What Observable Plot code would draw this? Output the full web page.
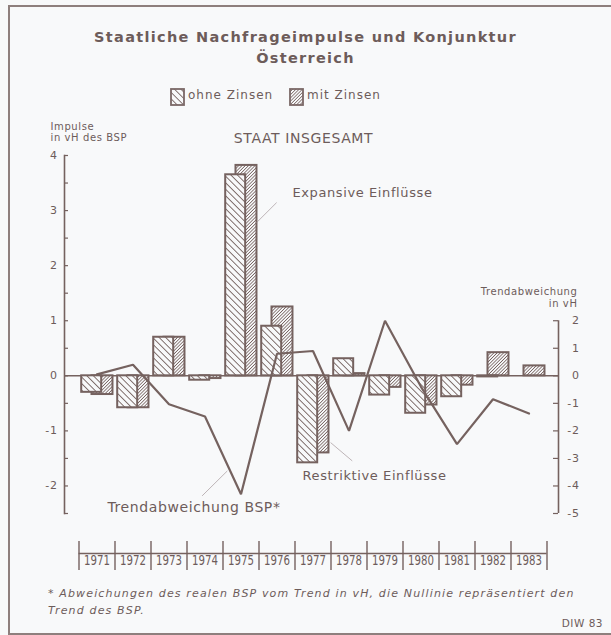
<!DOCTYPE html>
<html>
<head>
<meta charset="utf-8">
<script src="https://cdn.jsdelivr.net/npm/d3@7"></script>
<script src="https://cdn.jsdelivr.net/npm/@observablehq/plot@0.6"></script>
<style>
  html, body { margin: 0; padding: 0; }
  body { width: 611px; height: 635px; background: #f8f9fa; position: relative; overflow: hidden;
         font-family: "DejaVu Sans", sans-serif; color: #6d5c5a; }
  .abs { position: absolute; }
  #frameBox { left: 8px; top: 5px; width: 640px; height: 626px; border-left: 2px solid #8e7f7d;
              border-top: 2px solid #8e7f7d; border-bottom: 2px solid #8e7f7d; }
  #title { top: 27px; left: 0; width: 611px; text-align: center; font-weight: bold; font-size: 14.5px;
           letter-spacing: 1.3px; line-height: 21px; }
  .legtext { font-size: 12px; letter-spacing: 1px; top: 88px; }
  #chart { top: 110px; left: 0; }
  #chart svg text { letter-spacing: 0.6px; }
  #note { top: 585px; left: 48px; font-style: italic; font-size: 11px; letter-spacing: 1.15px; line-height: 17px; white-space: nowrap; }
  #diw { top: 617px; right: 8px; font-size: 10.5px; letter-spacing: 0.5px; }
</style>
</head>
<body>
<div id="frameBox" class="abs"></div>
<div id="title" class="abs">Staatliche Nachfrageimpulse und Konjunktur<br>Österreich</div>
<svg class="abs" style="left:170px;top:88px" width="15" height="18">
  <defs>
    <pattern id="lOhne" patternUnits="userSpaceOnUse" width="4.6" height="4.6" patternTransform="rotate(-45)">
      <rect width="4.6" height="4.6" fill="#f8f9fa"/><line x1="2.3" y1="0" x2="2.3" y2="4.6" stroke="#7a6866" stroke-width="0.9"/>
    </pattern>
    <pattern id="lMit" patternUnits="userSpaceOnUse" width="2.3" height="2.3" patternTransform="rotate(45)">
      <rect width="2.3" height="2.3" fill="#f8f9fa"/><line x1="1.15" y1="0" x2="1.15" y2="2.3" stroke="#7a6866" stroke-width="0.8"/>
    </pattern>
  </defs>
  <rect x="1" y="1" width="13" height="16" fill="url(#lOhne)" stroke="#7a6866" stroke-width="1.8"/>
</svg>
<div class="abs legtext" style="left:188px">ohne Zinsen</div>
<svg class="abs" style="left:289px;top:88px" width="15" height="18">
  <rect x="1" y="1" width="13" height="16" fill="url(#lMit)" stroke="#7a6866" stroke-width="1.8"/>
</svg>
<div class="abs legtext" style="left:307px">mit Zinsen</div>
<div id="chart" class="abs"></div>
<div id="note" class="abs">* Abweichungen des realen BSP vom Trend in vH, die Nullinie repräsentiert den<br>Trend des BSP.</div>
<div id="diw" class="abs">DIW 83</div>
<script>
// ---- data ----
const years = [1971, 1972, 1973, 1974, 1975, 1976, 1977, 1978, 1979, 1980, 1981, 1982, 1983];
const ohneZinsen = [-0.30, -0.58, 0.70, -0.08, 3.65, 0.90, -1.58, 0.31, -0.35, -0.68, -0.38, -0.02, 0];
const mitZinsen  = [-0.34, -0.58, 0.70, -0.05, 3.82, 1.25, -1.40, 0.04, -0.21, -0.53, -0.17, 0.42, 0.18];
const trendBSP   = [0.05, 0.40, -1.03, -1.48, -4.30, 0.80, 0.90, -2.00, 2.00, -0.40, -2.48, -0.85, -1.37];
const leftTicks  = [-2.5, -2, -1.5, -1, -0.5, 0, 0.5, 1, 1.5, 2, 2.5, 3, 3.5, 4];
const leftLabels = [-2, -1, 0, 1, 2, 3, 4];
const rightTicks = [2, 1, 0, -1, -2, -3, -4, -5];
const yearBounds = [1970.5, 1971.5, 1972.5, 1973.5, 1974.5, 1975.5, 1976.5, 1977.5, 1978.5, 1979.5, 1980.5, 1981.5, 1982.5, 1983.5];
const annLabels = [
  {text: "Expansive Einflüsse", year: 1976.43, v: 3.33, size: 13},
  {text: "Restriktive Einflüsse", year: 1976.71, v: -1.82, size: 13},
  {text: "Trendabweichung BSP*", year: 1971.29, v: -2.40, size: 14}
];
const leaders = [
  {x1: 1975.99, y1: 3.145, x2: 1975.43, y2: 2.78},
  {x1: 1977.49, y1: -1.213, x2: 1978.09, y2: -1.545},
  {x1: 1973.92, y1: -2.18, x2: 1974.62, y2: -1.727}
];

const rows = years.map((year, i) => ({year, ohne: ohneZinsen[i], mit: mitZinsen[i], trend: trendBSP[i]}));
const ink = "#75625f";
const txt = "#6d5c5a";
const bg = "#f8f9fa";

const plot = Plot.plot({
  width: 611,
  height: 475,
  marginTop: 45,
  marginBottom: 72,
  marginLeft: 64,
  marginRight: 53,
  style: {background: "transparent", fontFamily: "DejaVu Sans, sans-serif", color: txt, overflow: "visible"},
  x: {domain: [1970.5, 1983.5], range: [78.5, 546.5], axis: null},
  y: {domain: [-2.5, 4], axis: null},
  marks: [
    // left axis line and ticks
    Plot.frame({anchor: "left", stroke: ink, strokeWidth: 1.6}),
    Plot.ruleY(leftTicks, {y: d => d, stroke: ink, strokeWidth: 1.2, insetRight: 490}),
    Plot.text(leftLabels, {y: d => d, text: d => String(d), frameAnchor: "left", textAnchor: "end", dx: -7, fontSize: 11, fill: txt}),
    // right axis (trend, scale factor 2)
    Plot.ruleX([yearBounds[yearBounds.length - 1]], {y1: () => rightTicks[rightTicks.length - 1] / 2, y2: () => rightTicks[0] / 2, dx: 11.5, stroke: ink, strokeWidth: 1.6}),
    Plot.ruleY(rightTicks, {y: d => d / 2, stroke: ink, strokeWidth: 1.2, insetLeft: 489}),
    Plot.text(rightTicks, {y: d => d / 2, text: d => String(d), frameAnchor: "right", textAnchor: "end", dx: 21, fontSize: 11, fill: txt}),
    // zero line
    Plot.ruleY([0], {stroke: ink, strokeWidth: 1.6}),
    // bars
    Plot.rect(rows, {x1: d => d.year - 0.139, x2: d => d.year + 0.444, y1: () => 0, y2: "mit", fill: "url(#pMit)", stroke: ink, strokeWidth: 2}),
    Plot.rect(rows.filter(d => d.ohne !== 0), {x1: d => d.year - 0.425, x2: d => d.year + 0.13, y1: () => 0, y2: "ohne", fill: "url(#pOhne)", stroke: ink, strokeWidth: 2}),
    // trend line
    Plot.line(rows, {x: "year", y: d => d.trend / 2, stroke: ink, strokeWidth: 2.2, strokeLinejoin: "miter"}),
    // annotations
    Plot.link(leaders, {x1: "x1", y1: "y1", x2: "x2", y2: "y2", stroke: "#a3979a", strokeWidth: 0.7}),
    Plot.text(annLabels, {x: "year", y: "v", text: "text", textAnchor: "start", fontSize: d => d.size, fill: txt}),
    // panel titles
    Plot.text(["STAAT INSGESAMT"], {frameAnchor: "top", dx: -8, dy: -22, fontSize: 14, fill: txt}),
    Plot.text(["Impulse\nin vH des BSP"], {frameAnchor: "top-left", textAnchor: "start", lineAnchor: "top", dx: -14, dy: -34, fontSize: 10, lineHeight: 1.15, fill: txt}),
    Plot.text(["Trendabweichung\nin vH"], {frameAnchor: "top-right", textAnchor: "end", lineAnchor: "top", dx: 19, dy: 131, fontSize: 10, lineHeight: 1.2, fill: txt}),
    // year axis band
    Plot.ruleY([-2.5], {x1: () => yearBounds[0], x2: () => yearBounds[yearBounds.length - 1], dy: 40, stroke: ink, strokeWidth: 1.6}),
    Plot.ruleX(yearBounds, {x: d => d, insetTop: 386, insetBottom: -57, stroke: ink, strokeWidth: 1.4}),
    Plot.text(years, {x: d => d, text: d => String(d), frameAnchor: "bottom", dy: 51, fontSize: 14, fill: txt})
  ]
});

d3.select(plot).insert("defs", ":first-child").html(`
  <pattern id="pOhne" patternUnits="userSpaceOnUse" width="4.6" height="4.6" patternTransform="rotate(-45)">
    <rect width="4.6" height="4.6" fill="${bg}"/><line x1="2.3" y1="0" x2="2.3" y2="4.6" stroke="${ink}" stroke-width="0.9"/>
  </pattern>
  <pattern id="pMit" patternUnits="userSpaceOnUse" width="2.3" height="2.3" patternTransform="rotate(45)">
    <rect width="2.3" height="2.3" fill="${bg}"/><line x1="1.15" y1="0" x2="1.15" y2="2.3" stroke="${ink}" stroke-width="0.8"/>
  </pattern>`);

// condensed look for the year labels
d3.select(plot).selectAll("text")
  .filter(function() { return /^19\d\d$/.test(this.textContent); })
  .attr("textLength", 26).attr("lengthAdjust", "spacingAndGlyphs").style("letter-spacing", "0px");

document.getElementById("chart").appendChild(plot);
</script>
</body>
</html>
